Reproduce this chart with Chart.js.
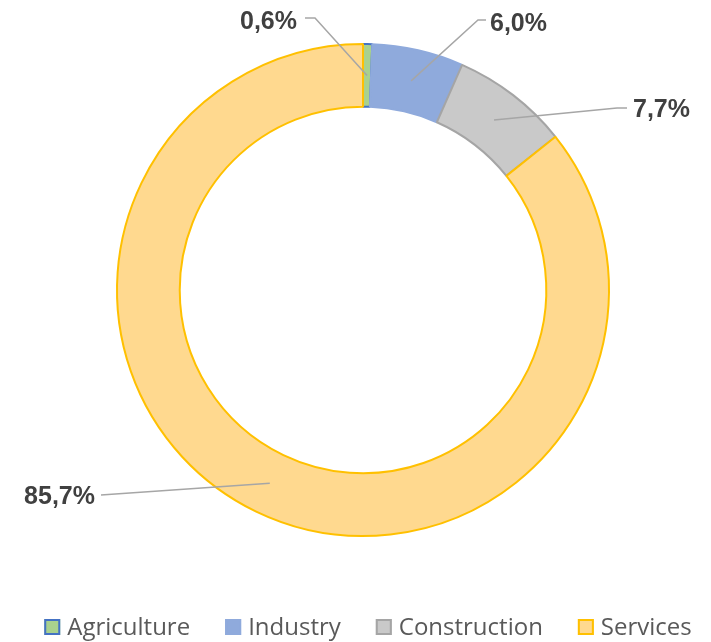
<!DOCTYPE html>
<html><head><meta charset="utf-8">
<script src="https://cdn.jsdelivr.net/npm/chart.js@4.4.1/dist/chart.umd.min.js"></script>
<style>html,body{margin:0;padding:0;background:#fff}#wrap{position:relative;width:711px;height:642px}</style>
</head><body><div id="wrap"><canvas id="c" width="711" height="642"></canvas></div>
<script>
const categories = ['Agriculture', 'Industry', 'Construction', 'Services'];
const shares = [0.6, 6.0, 7.7, 85.7];
const valueLabels = ['0,6%', '6,0%', '7,7%', '85,7%'];

const fills = ['#a9d18e', '#8faadc', '#c9c9c9', '#ffd98f'];
const borders = ['#4472c4', '#8faadc', '#a5a5a5', '#ffc000'];

// label placement: text anchor, alignment, leader elbow
const labelLayout = [
  {tx: 297, ty: 29, align: 'right', ex: 315, ey: 18, sx: 305},
  {tx: 490, ty: 31, align: 'left', ex: 478, ey: 20, sx: 486},
  {tx: 633, ty: 117, align: 'left', ex: 617, ey: 108, sx: 627},
  {tx: 95, ty: 504, align: 'right', ex: 101, ey: 495, sx: 101}
];

const labelPlugin = {
  id: 'leaderLabels',
  afterDatasetsDraw(chart) {
    const ctx = chart.ctx;
    const meta = chart.getDatasetMeta(0);
    ctx.save();
    meta.data.forEach((arc, i) => {
      const p = arc.getProps(['x','y','startAngle','endAngle','innerRadius','outerRadius'], true);
      const a = (p.startAngle + p.endAngle) / 2;
      const r = (p.innerRadius + p.outerRadius) / 2;
      const ax = p.x + Math.cos(a) * r, ay = p.y + Math.sin(a) * r;
      const L = labelLayout[i];
      ctx.strokeStyle = '#a6a6a6';
      ctx.lineWidth = 1.5;
      ctx.beginPath();
      ctx.moveTo(ax, ay);
      ctx.lineTo(L.ex, L.ey);
      ctx.lineTo(L.sx, L.ey);
      ctx.stroke();
      ctx.fillStyle = '#404040';
      ctx.font = 'bold 25px "Liberation Sans", Arial, sans-serif';
      ctx.textAlign = L.align;
      ctx.textBaseline = 'alphabetic';
      ctx.fillText(valueLabels[i], L.tx, L.ty);
    });
    ctx.restore();
  }
};

const legendPlugin = {
  id: 'bottomLegend',
  afterDraw(chart) {
    const ctx = chart.ctx;
    const ds = chart.data.datasets[0];
    ctx.save();
    ctx.font = '24px "Open Sans", sans-serif';
    const box = 16, gapBox = 7, gapItem = 35;
    const widths = chart.data.labels.map(t => ctx.measureText(t).width);
    const total = widths.reduce((s, w) => s + box + gapBox + w, 0) + gapItem * (widths.length - 1);
    let x = 368 - total / 2;
    const baseY = 635;
    chart.data.labels.forEach((t, i) => {
      ctx.fillStyle = ds.backgroundColor[i];
      ctx.fillRect(x, 619, box, box);
      ctx.strokeStyle = ds.borderColor[i];
      ctx.lineWidth = 2;
      ctx.strokeRect(x + 1, 620, box - 2, box - 2);
      x += box + gapBox;
      ctx.fillStyle = '#595959';
      ctx.textAlign = 'left';
      ctx.textBaseline = 'alphabetic';
      ctx.fillText(t, x, baseY);
      x += widths[i] + gapItem;
    });
    ctx.restore();
  }
};

new Chart(document.getElementById('c'), {
  type: 'doughnut',
  data: {
    labels: categories,
    datasets: [{
      data: shares,
      backgroundColor: fills,
      borderColor: borders,
      borderWidth: 2,
      hoverOffset: 0,
      offset: 0
    }]
  },
  options: {
    responsive: false,
    animation: false,
    cutout: '74.5%',
    layout: {padding: {left: 116, top: 43, right: 101, bottom: 105}},
    plugins: {legend: {display: false}, tooltip: {enabled: false}}
  },
  plugins: [labelPlugin, legendPlugin]
});
</script>
</body></html>
